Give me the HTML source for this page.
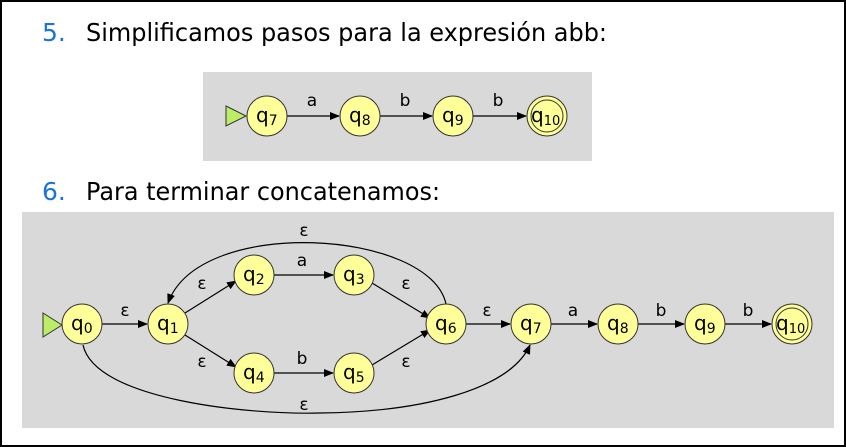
<!DOCTYPE html>
<html><head><meta charset="utf-8"><style>
html,body{margin:0;padding:0;background:#fff;width:846px;height:447px;overflow:hidden}
svg{display:block}
text{font-family:"DejaVu Sans","Liberation Sans",sans-serif;fill:#000}
</style></head><body>
<svg width="846" height="447" viewBox="0 0 846 447" xmlns="http://www.w3.org/2000/svg">
<defs>
<marker id="ah" markerWidth="10" markerHeight="8" refX="9" refY="4" orient="auto" markerUnits="userSpaceOnUse">
<path d="M0,0 L10,4 L0,8 Z" fill="#000"/></marker>
</defs>
<rect x="1" y="1" width="844" height="445" fill="#fff" stroke="#000" stroke-width="2"/>
<text x="42" y="41" font-size="25" style="fill:#1a73d9">5.</text>
<text x="86" y="41" font-size="25" textLength="521" lengthAdjust="spacingAndGlyphs">Simplificamos pasos para la expresión abb:</text>
<text x="42" y="200" font-size="25" style="fill:#1a73d9">6.</text>
<text x="86" y="200" font-size="25" textLength="354" lengthAdjust="spacingAndGlyphs">Para terminar concatenamos:</text>

<rect x="203" y="72" width="389" height="89" fill="#d9d9d9"/>
<rect x="22" y="212" width="812" height="216" fill="#d9d9d9"/>

<g stroke="#000" stroke-width="1.2" fill="none">
<line x1="287" y1="116" x2="339" y2="116" marker-end="url(#ah)"/>
<line x1="380" y1="116" x2="432" y2="116" marker-end="url(#ah)"/>
<line x1="473" y1="116" x2="526" y2="116" marker-end="url(#ah)"/>
<line x1="102" y1="324" x2="147" y2="324" marker-end="url(#ah)"/>
<line x1="185" y1="313" x2="236" y2="281" marker-end="url(#ah)"/>
<line x1="185" y1="335" x2="236" y2="367" marker-end="url(#ah)"/>
<line x1="274" y1="275" x2="333" y2="275" marker-end="url(#ah)"/>
<line x1="274" y1="373" x2="333" y2="373" marker-end="url(#ah)"/>
<line x1="372" y1="283" x2="430" y2="318" marker-end="url(#ah)"/>
<line x1="372" y1="365" x2="430" y2="330" marker-end="url(#ah)"/>
<line x1="466" y1="324" x2="510" y2="324" marker-end="url(#ah)"/>
<line x1="551" y1="324" x2="597" y2="324" marker-end="url(#ah)"/>
<line x1="638" y1="324" x2="684" y2="324" marker-end="url(#ah)"/>
<line x1="725" y1="324" x2="771" y2="324" marker-end="url(#ah)"/>
<path d="M446,304 C430,230 200,215 168,303" marker-end="url(#ah)"/>
<path d="M83,345 C95,400 250,415 320,413 C420,412 510,390 530,345" marker-end="url(#ah)"/>
</g>

<g stroke="#333" stroke-width="1" fill="#ffff99">
<path d="M226,106 L246,116 L226,126 Z" fill="#bbee66"/>
<circle cx="267" cy="116" r="20"/><circle cx="360" cy="116" r="20"/><circle cx="453" cy="116" r="20"/><circle cx="547" cy="116" r="20"/><circle cx="547" cy="116" r="16"/>
<path d="M43,313 L62,325 L43,337 Z" fill="#bbee66"/>
<circle cx="82" cy="324" r="20"/><circle cx="168" cy="324" r="20"/>
<circle cx="254" cy="275" r="20"/><circle cx="354" cy="275" r="20"/>
<circle cx="254" cy="373" r="20"/><circle cx="354" cy="373" r="20"/>
<circle cx="446" cy="324" r="20"/><circle cx="531" cy="324" r="20"/>
<circle cx="618" cy="324" r="20"/><circle cx="705" cy="324" r="20"/>
<circle cx="792" cy="324" r="20"/><circle cx="792" cy="324" r="16"/>
</g>

<g font-size="20">
<text x="256" y="122">q<tspan font-size="14" dy="3">7</tspan></text>
<text x="349" y="122">q<tspan font-size="14" dy="3">8</tspan></text>
<text x="442" y="122">q<tspan font-size="14" dy="3">9</tspan></text>
<text x="531" y="122">q<tspan font-size="13" dy="3">10</tspan></text>
<text x="71" y="330">q<tspan font-size="14" dy="3">0</tspan></text>
<text x="157" y="330">q<tspan font-size="14" dy="3">1</tspan></text>
<text x="243" y="281">q<tspan font-size="14" dy="3">2</tspan></text>
<text x="343" y="281">q<tspan font-size="14" dy="3">3</tspan></text>
<text x="243" y="379">q<tspan font-size="14" dy="3">4</tspan></text>
<text x="343" y="379">q<tspan font-size="14" dy="3">5</tspan></text>
<text x="435" y="330">q<tspan font-size="14" dy="3">6</tspan></text>
<text x="520" y="330">q<tspan font-size="14" dy="3">7</tspan></text>
<text x="607" y="330">q<tspan font-size="14" dy="3">8</tspan></text>
<text x="694" y="330">q<tspan font-size="14" dy="3">9</tspan></text>
<text x="776" y="330">q<tspan font-size="13" dy="3">10</tspan></text>
</g>
<g font-size="17" text-anchor="middle">
<text x="312" y="106">a</text><text x="405" y="106">b</text><text x="498" y="106">b</text>
<text x="125" y="316">ε</text>
<text x="202" y="289">ε</text><text x="202" y="367">ε</text>
<text x="302" y="266">a</text><text x="302" y="364">b</text>
<text x="406" y="289">ε</text><text x="406" y="367">ε</text>
<text x="304" y="236">ε</text><text x="304" y="410">ε</text>
<text x="487" y="316">ε</text><text x="573" y="316">a</text>
<text x="661" y="316">b</text><text x="748" y="316">b</text>
</g>
</svg>
</body></html>
